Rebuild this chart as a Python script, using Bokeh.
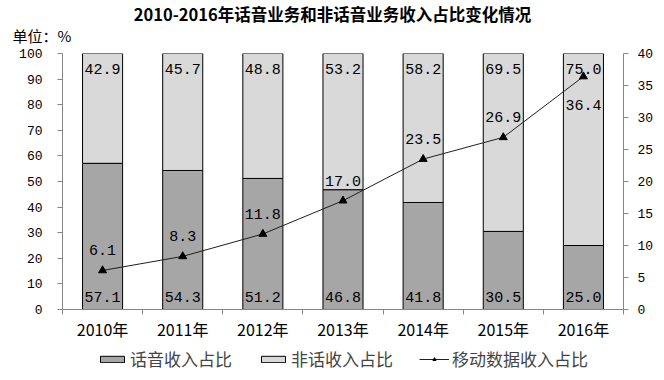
from bokeh.plotting import figure
from bokeh.layouts import column
from bokeh.models import (FactorRange, Range1d, LinearAxis, FixedTicker, CustomJSTickFormatter,
                          ColumnDataSource, LabelSet, Label, Legend, LegendItem)
from bokeh.core.properties import value
from bokeh.embed import file_html
from bokeh.resources import INLINE

years = ["2010年", "2011年", "2012年", "2013年", "2014年", "2015年", "2016年"]
voice_share = [57.1, 54.3, 51.2, 46.8, 41.8, 30.5, 25.0]
nonvoice_share = [42.9, 45.7, 48.8, 53.2, 58.2, 69.5, 75.0]
mobile_data_share = [6.1, 8.3, 11.8, 17.0, 23.5, 26.9, 36.4]
left_ticks = list(range(0, 101, 10))
right_ticks = list(range(0, 41, 5))
series_names = ["话音收入占比", "非话收入占比", "移动数据收入占比"]
title_text = "2010-2016年话音业务和非话音业务收入占比变化情况"
unit_text = "单位：%"

FONT = "Noto Sans CJK SC"
NUM_FONT = "Liberation Mono"
AXIS_COLOR = "#868686"
DARK = "#a6a6a6"
LIGHT = "#d9d9d9"
LINE = "#1f1f1f"

p = figure(width=664, height=344, x_range=FactorRange(factors=years, range_padding=0),
           y_range=Range1d(0, 100), output_backend="svg", toolbar_location=None,
           x_axis_location=None, y_axis_location=None, title=None,
           min_border_left=62, min_border_right=41, min_border_top=53, min_border_bottom=35)
p.outline_line_color = None
p.xgrid.visible = False
p.ygrid.visible = False
p.extra_y_ranges = {"r": Range1d(0, 40)}

src = ColumnDataSource(dict(year=years, voice=voice_share, nonvoice=nonvoice_share,
                            total=[a + b for a, b in zip(voice_share, nonvoice_share)],
                            zero=[0] * len(years),
                            vlab=[f"{v:.1f}" for v in voice_share],
                            nlab=[f"{v:.1f}" for v in nonvoice_share]))
lsrc = ColumnDataSource(dict(year=years, v=mobile_data_share))


def draw_series(fig, y_range_name):
    a = fig.vbar(x="year", bottom="zero", top="voice", width=0.5, source=src,
                 fill_color=DARK, line_color="black", line_width=1)
    b = fig.vbar(x="year", bottom="voice", top="total", width=0.5, source=src,
                 fill_color=LIGHT, line_color="black", line_width=1)
    c = fig.line(x="year", y="v", source=lsrc, y_range_name=y_range_name,
                 line_color=LINE, line_width=1)
    d = fig.scatter(x="year", y="v", source=lsrc, y_range_name=y_range_name, marker="triangle",
                    size=8, fill_color="black", line_color="black")
    return a, b, c, d


draw_series(p, "r")

# axes
xaxis = LinearAxis(ticker=FixedTicker(ticks=[i + 0.5 for i in range(len(years))],
                                      minor_ticks=list(range(len(years) + 1))),
                   formatter=CustomJSTickFormatter(args=dict(labels=years),
                                                   code="return labels[Math.floor(tick)]"))
xaxis.major_tick_out = 0
xaxis.major_tick_in = 0
xaxis.minor_tick_out = 5
xaxis.minor_tick_in = 0
xaxis.axis_line_color = AXIS_COLOR
xaxis.minor_tick_line_color = AXIS_COLOR
xaxis.major_label_text_font = FONT
xaxis.major_label_text_font_size = "16px"
xaxis.major_label_text_color = "black"
xaxis.major_label_standoff = 2
p.add_layout(xaxis, "below")

yl = LinearAxis(ticker=FixedTicker(ticks=left_ticks))
yr = LinearAxis(ticker=FixedTicker(ticks=right_ticks), y_range_name="r")
for ax, st in ((yl, 15), (yr, 9)):
    ax.major_tick_out = 5
    ax.major_tick_in = 0
    ax.minor_tick_out = 0
    ax.minor_tick_in = 0
    ax.axis_line_color = AXIS_COLOR
    ax.major_tick_line_color = AXIS_COLOR
    ax.major_label_text_font = NUM_FONT
    ax.major_label_text_font_size = "13px"
    ax.major_label_text_color = "black"
    ax.major_label_standoff = st
p.add_layout(yl, "left")
p.add_layout(yr, "right")

# data labels
lab_style = dict(text_align="center", text_baseline="alphabetic", text_font=value(NUM_FONT),
                 text_font_size="15px", text_color="black")
p.add_layout(LabelSet(x="year", y="zero", text="vlab", source=src, y_offset=8, **lab_style))
p.add_layout(LabelSet(x="year", y="total", text="nlab", source=src, y_offset=-20, **lab_style))
n = len(years)
above_src = ColumnDataSource(dict(year=years[:n - 1], v=mobile_data_share[:n - 1],
                                  lab=[f"{v:.1f}" for v in mobile_data_share[:n - 1]]))
below_src = ColumnDataSource(dict(year=years[n - 1:], v=mobile_data_share[n - 1:],
                                  lab=[f"{v:.1f}" for v in mobile_data_share[n - 1:]]))
p.add_layout(LabelSet(x="year", y="v", text="lab", source=above_src, y_range_name="r",
                      y_offset=15, **lab_style))
p.add_layout(LabelSet(x="year", y="v", text="lab", source=below_src, y_range_name="r",
                      y_offset=-33, **lab_style))

# titles as labels in the top panel
p.add_layout(Label(x=270, y=40, x_units="screen", y_units="screen", text=title_text,
                   text_align="center", text_baseline="middle", text_font=FONT,
                   text_font_size="16.5px", text_font_style="bold", text_color="black"), "above")
p.add_layout(Label(x=-50, y=-6, x_units="screen", y_units="screen", text=unit_text,
                   text_align="left", text_baseline="middle", text_font=FONT,
                   text_font_size="15px", text_color="black"), "above")

# legend strip (its glyphs reuse the chart data, which lies outside this strip's view)
lg = figure(width=664, height=36, x_range=FactorRange(factors=years, range_padding=0),
            y_range=Range1d(1000, 1001), output_backend="svg", toolbar_location=None, title=None,
            x_axis_location=None, y_axis_location=None,
            min_border_left=0, min_border_right=0, min_border_top=0, min_border_bottom=0)
lg.outline_line_color = None
lg.xgrid.visible = False
lg.ygrid.visible = False
lg.extra_y_ranges = {"r": Range1d(1000, 1001)}
g1, g2, g3, g4 = draw_series(lg, "r")
legend = Legend(items=[LegendItem(label=series_names[0], renderers=[g1]),
                       LegendItem(label=series_names[1], renderers=[g2]),
                       LegendItem(label=series_names[2], renderers=[g3, g4])],
                orientation="horizontal", location=(35, 9),
                glyph_width=30, glyph_height=8, label_standoff=3, spacing=26,
                label_text_font=FONT, label_text_font_size="17px", label_height=16,
                border_line_color=None, background_fill_alpha=0,
                padding=0, margin=0)
lg.add_layout(legend, "center")

layout = column(p, lg, spacing=0)
open("out.html", "w").write(file_html(layout, INLINE))
